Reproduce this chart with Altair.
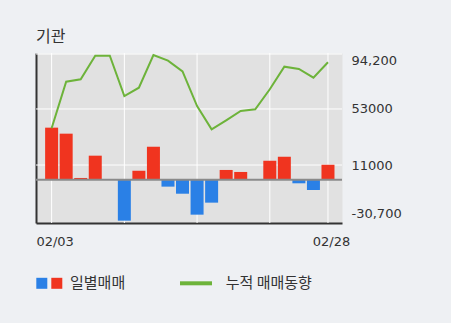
import altair as alt
import pandas as pd

# ---- data ----
dates = ["02/03", "02/04", "02/05", "02/06", "02/07", "02/10", "02/11", "02/12", "02/13", "02/14",
         "02/17", "02/18", "02/19", "02/20", "02/21", "02/24", "02/25", "02/26", "02/27", "02/28"]
daily = [39000, 34500, 1300, 18000, 0, -30700, 6700, 24700, -5200, -10500,
         -26200, -17200, 7300, 5800, 500, 14200, 17200, -2700, -7700, 11200]
cumulative = [38500, 73450, 75250, 92900, 92900, 62700, 68950, 93450, 89200, 81200,
              55200, 37800, 44500, 51500, 52800, 67750, 84700, 83000, 76450, 88000]
y_ticks = [94200, 53000, 11000, -30700]
y_tick_labels = ["94,200", "53000", "11000", "-30,700"]
grid_values = [94200, 53000, 11000]
x_label_idx = [0, 19]
x_grid_idx = [0, 5, 10, 15, 19]
title_text = "기관"
legend_labels = ["일별매매", "누적 매매동향"]

RED = "#f0341f"
BLUE = "#2a80e6"
GREEN = "#6db33a"
DARK = "#333333"
NUM_FONT = "DejaVu Sans"
KO_FONT = "Noto Sans CJK KR"

df = pd.DataFrame({"i": list(range(len(dates))), "date": dates, "daily": daily, "cum": cumulative})

xs = alt.Scale(domain=[-0.73, 19.62], nice=False, zero=False)
ys = alt.Scale(domain=[-32450, 94950], nice=False, zero=False)

x_label_expr = "[" + ",".join(f"'{d}'" for d in dates) + "][datum.value]"
y_label_expr = ""
for v, lab in zip(y_ticks, y_tick_labels):
    y_label_expr += f"datum.value == {v} ? '{lab}' : "
y_label_expr += "''"

x_axis = alt.Axis(values=x_label_idx, labelExpr=x_label_expr, grid=False, ticks=False,
                  domain=True, domainColor=DARK, domainWidth=2, labelFont=NUM_FONT,
                  labelFontSize=13, labelColor=DARK, labelPadding=12, labelOffset=3,
                  title=None)
left_axis = alt.Axis(orient="left", domain=True, domainColor=DARK, domainWidth=2,
                     labels=False, ticks=False, grid=False, title=None)
right_axis = alt.Axis(orient="right", values=y_ticks, labelExpr=y_label_expr, domain=False,
                      ticks=False, grid=False, labelFont=NUM_FONT, labelFontSize=13,
                      labelColor=DARK, labelPadding=9, labelFlush=10, title=None)

vgrid = alt.Chart(pd.DataFrame({"i": x_grid_idx})).mark_rule(color="white", strokeWidth=1).encode(
    x=alt.X("i:Q", scale=xs, axis=x_axis))
hgrid = alt.Chart(pd.DataFrame({"v": grid_values})).mark_rule(color="white", strokeWidth=1).encode(
    y=alt.Y("v:Q", scale=ys, axis=left_axis))

bars = alt.Chart(df).mark_bar(size=13).encode(
    x=alt.X("i:Q", scale=xs, axis=x_axis),
    y=alt.Y("daily:Q", scale=ys, axis=right_axis),
    y2=alt.datum(0),
    color=alt.condition(alt.datum.daily > 0, alt.value(RED), alt.value(BLUE)),
)

zero = alt.Chart(pd.DataFrame({"z": [0]})).mark_rule(color="#8a8a8a", strokeWidth=2).encode(
    y=alt.Y("z:Q", scale=ys, axis=None))

line = alt.Chart(df).mark_line(color=GREEN, strokeWidth=2).encode(
    x=alt.X("i:Q", scale=xs, axis=x_axis),
    y=alt.Y("cum:Q", scale=ys, axis=None),
)

one = pd.DataFrame({"a": [0]})
title = alt.Chart(one).mark_text(text=title_text, align="left", baseline="middle", font=KO_FONT,
                                 fontSize=16, color=DARK).encode(x=alt.value(0), y=alt.value(-16))
sq_blue = alt.Chart(one).mark_square(size=121, color=BLUE, opacity=1).encode(
    x=alt.value(5.8), y=alt.value(230.3))
sq_red = alt.Chart(one).mark_square(size=121, color=RED, opacity=1).encode(
    x=alt.value(20.8), y=alt.value(230.3))
leg_txt1 = alt.Chart(one).mark_text(text=legend_labels[0], align="left", baseline="middle",
                                    font=KO_FONT, fontSize=15, color=DARK).encode(
    x=alt.value(34), y=alt.value(230.3))
leg_line = alt.Chart(one).mark_rule(color=GREEN, strokeWidth=4).encode(
    x=alt.value(144), x2=alt.value(176), y=alt.value(230.3))
leg_txt2 = alt.Chart(one).mark_text(text=legend_labels[1], align="left", baseline="middle",
                                    font=KO_FONT, fontSize=15, color=DARK).encode(
    x=alt.value(189.7), y=alt.value(230.3))

chart = alt.layer(
    vgrid, hgrid, bars, zero, line, title, sq_blue, sq_red, leg_txt1, leg_line, leg_txt2
).resolve_axis(y="independent").properties(
    width=306, height=170,
    autosize=alt.AutoSizeParams(type="none"),
    padding={"left": 36, "top": 53, "right": 109, "bottom": 100},
).configure(background="#eef0f3").configure_view(fill="#e1e1e1", stroke="transparent")

chart.save("out.html", embed_options={"renderer": "svg", "actions": False})
